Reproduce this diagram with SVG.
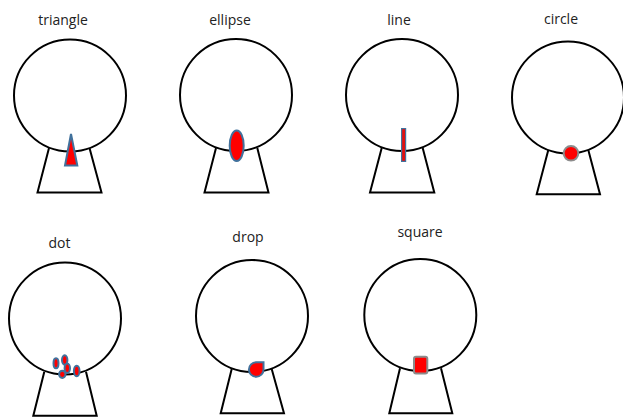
<svg xmlns="http://www.w3.org/2000/svg" width="623" height="417" viewBox="0 0 623 417">
<style>
.lbl{font-family:"Open Sans","Liberation Sans",sans-serif;font-size:14px;fill:#222;text-anchor:middle}
.head{fill:#fff;stroke:#000;stroke-width:2}
.neck{fill:none;stroke:#000;stroke-width:2;stroke-linejoin:miter}
.mk{fill:#f00;stroke:#41719c;stroke-width:2}
.mg{fill:#f00;stroke:#8c8c8c;stroke-width:2}
</style>
<rect width="623" height="417" fill="#fff"/>
<g id="triangle">
<text class="lbl" x="63" y="25">triangle</text>
<polyline class="neck" points="49,148 37.5,192.5 101.5,192.5 89.5,148"/>
<circle class="head" cx="70" cy="95.5" r="56"/>
<polygon class="mk" points="71,134 65,165.5 77.3,165.5"/>
</g>
<g id="ellipse">
<text class="lbl" x="230" y="25">ellipse</text>
<polyline class="neck" points="216,148 204.5,192.5 268.5,192.5 257.3,148"/>
<circle class="head" cx="236" cy="95" r="56"/>
<ellipse class="mk" cx="236.7" cy="145.7" rx="7" ry="15.3"/>
</g>
<g id="line">
<text class="lbl" x="399" y="25">line</text>
<polyline class="neck" points="381.7,148 370,192.5 434.3,192.5 422.7,148"/>
<circle class="head" cx="402" cy="95" r="56"/>
<rect x="401.6" y="128.6" width="4" height="32.8" fill="#e01010" stroke="#41719c" stroke-width="1.2"/>
</g>
<g id="circle">
<text class="lbl" x="561" y="23.5">circle</text>
<polyline class="neck" points="548.3,150 536.7,194.3 600,194.3 588.3,150"/>
<circle class="head" cx="568" cy="97.5" r="56"/>
<circle class="mg" cx="571" cy="153.3" r="7.3"/>
</g>
<g id="dot">
<text class="lbl" x="59.5" y="248">dot</text>
<polyline class="neck" points="44.3,371.7 33.3,415.7 96.7,415.7 86,371.7"/>
<circle class="head" cx="65" cy="318.5" r="56"/>
<ellipse class="mk" cx="56" cy="363.3" rx="2.5" ry="5"/>
<ellipse class="mk" cx="64.7" cy="360" rx="2.7" ry="4.7"/>
<ellipse class="mk" cx="67.3" cy="368.3" rx="2.7" ry="4.7"/>
<ellipse class="mk" cx="62.3" cy="374.3" rx="3.2" ry="3.6"/>
<ellipse class="mk" cx="76.7" cy="371" rx="2.8" ry="5.2"/>
</g>
<g id="drop">
<text class="lbl" x="248" y="241.5">drop</text>
<polyline class="neck" points="231.7,369 220.7,413.3 284,413.3 271.7,369"/>
<circle class="head" cx="252" cy="316" r="56"/>
<path class="mk" d="M263.5,362.2 L263.5,369.5 A7.3,7.3 0 1 1 256.2,362.2 Z"/>
</g>
<g id="square">
<text class="lbl" x="420" y="236.5">square</text>
<polyline class="neck" points="400,368.3 389.3,413.3 452.3,413.3 441,368.3"/>
<circle class="head" cx="420.3" cy="315" r="56"/>
<rect class="mg" x="414" y="356.7" width="13.3" height="16.8" rx="2"/>
</g>
<g id="connectors"/>
</svg>
